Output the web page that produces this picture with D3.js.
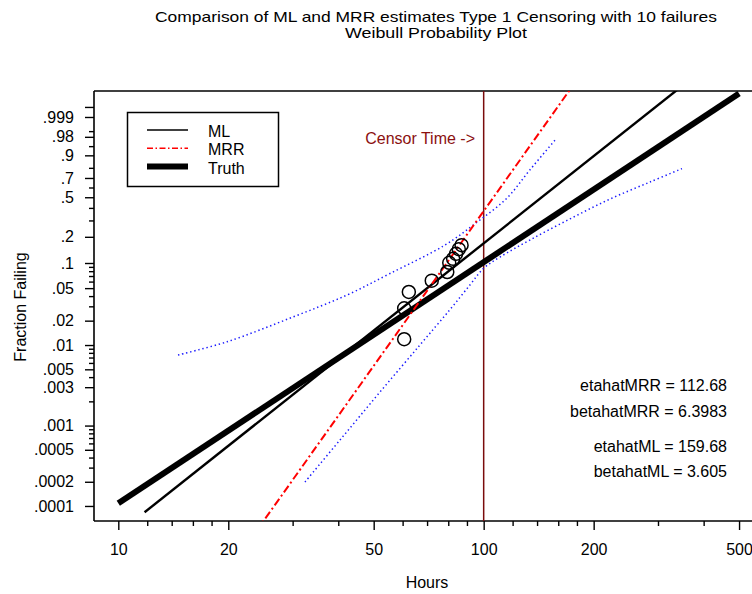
<!DOCTYPE html>
<html><head><meta charset="utf-8">
<script src="https://cdn.jsdelivr.net/npm/d3@7"></script>
<style>
html,body{margin:0;padding:0;background:#fff;}
svg{display:block;font-family:"Liberation Sans",Arial,Helvetica,sans-serif;}
</style></head><body>
<svg id="chart" width="752" height="594"></svg>
<script>
// Weibull fits: ML, MRR and the true model
const mlEta = 159.68, mlBeta = 3.605;
const mrrEta = 112.68, mrrBeta = 6.3983;
const trueEta = 210, trueBeta = 3;

// time spans (hours) over which each line is drawn
const mlSpan = [11.8, 400];
const mrrSpan = [20, 200];
const truthSpan = [10, 500];

const censorTime = 100;

// failure times and plotting positions
const failTimes = [60.6, 60.6, 62.4, 72.1, 79.5, 80.5, 82.5, 84.0, 85.5, 87.0];
const failProbs = [0.0118, 0.0284, 0.0449, 0.0616, 0.0782, 0.1006, 0.112, 0.128, 0.145, 0.161];

// pointwise confidence bounds around the ML line
const boundATimes = [14.57, 19.84, 30.07, 42.25, 55.41, 78.4, 95.3, 115.8, 133.8, 157.7];
const boundAProbs = [0.00753, 0.01097, 0.0222, 0.0412, 0.075, 0.1618, 0.2823, 0.4919, 0.7803, 0.9747];
const boundBTimes = [32.43, 40.44, 52.03, 66.98, 80.9, 91.7, 100.2, 110.8, 133.8, 172.3, 221.6, 285.2, 348.9];
const boundBProbs = [0.000199, 0.000662, 0.002615, 0.01006, 0.0274, 0.0546, 0.0874, 0.1175, 0.184, 0.3113, 0.482, 0.6577, 0.7927];

// axis ticks
const xMajorTicks = [10, 20, 50, 100, 200, 500];
const xMinorTicks = [12, 14, 16, 18, 30, 40, 60, 70, 80, 90, 120, 140, 160, 180, 300, 400];
const yTickLabels = [".0001", ".0002", ".0005", ".001", ".003", ".005", ".01", ".02", ".05", ".1", ".2", ".5", ".7", ".9", ".98", ".999"];
const yUnlabeledMajor = [0.9999];
const yMinorTicks = [0.0003, 0.0004, 0.0006, 0.0007, 0.0008, 0.0009, 0.002, 0.004, 0.006, 0.007, 0.008, 0.009,
  0.03, 0.04, 0.06, 0.07, 0.08, 0.09, 0.3, 0.4, 0.6, 0.8, 0.95, 0.99];

const titleLines = ["Comparison of ML and MRR estimates Type 1 Censoring with 10 failures", "Weibull Probability Plot"];
const legendItems = ["ML", "MRR", "Truth"];

// ---------- layout ----------
const plot = {left: 94, right: 752, top: 91, bottom: 521};
const svg = d3.select("#chart");

const wq = p => Math.log(-Math.log(1 - p));          // Weibull probability transform
const x = d3.scaleLog().domain([8.58, 542.5]).range([plot.left, plot.right]);
const yv = d3.scaleLinear().domain([-9.641, 2.677]).range([plot.bottom, plot.top]);
const y = p => yv(wq(p));

// title: a slightly condensed face, stretched to its full line width
const titleWidths = [562, 182];
svg.append("g").selectAll("text").data(titleLines).join("text")
  .attr("x", 436).attr("y", (d, i) => 22 + i * 16)
  .attr("text-anchor", "middle").attr("font-size", 14.5).attr("fill", "#000")
  .attr("textLength", (d, i) => titleWidths[i]).attr("lengthAdjust", "spacingAndGlyphs")
  .text(d => d);

// clip region for the data
svg.append("clipPath").attr("id", "clip").append("rect")
  .attr("x", plot.left).attr("y", plot.top)
  .attr("width", plot.right - plot.left).attr("height", plot.bottom - plot.top);

// x axis (log scale)
const xAxisG = svg.append("g").attr("transform", `translate(0,${plot.bottom})`);
xAxisG.call(d3.axisBottom(x).tickValues(xMajorTicks).tickFormat(d3.format("d")).tickSize(9).tickSizeOuter(0).tickPadding(14));
xAxisG.append("g").call(d3.axisBottom(x).tickValues(xMinorTicks).tickFormat("").tickSize(5).tickSizeOuter(0));
xAxisG.selectAll(".domain").remove();
xAxisG.selectAll("line").attr("stroke", "#000").attr("stroke-width", 1.4);
xAxisG.selectAll("text").attr("font-size", 16).attr("fill", "#000").attr("font-family", "Liberation Sans, Arial, sans-serif");

// y axis (Weibull scale)
const yAxisG = svg.append("g").attr("transform", `translate(${plot.left},0)`);
const yLabelVals = yTickLabels.map(s => +("0" + s));
yAxisG.call(d3.axisLeft(yv).tickValues(yLabelVals.map(wq))
  .tickFormat((d, i) => yTickLabels[i]).tickSize(9).tickSizeOuter(0).tickPadding(11));
yAxisG.append("g").call(d3.axisLeft(yv).tickValues(yUnlabeledMajor.map(wq)).tickFormat("").tickSize(9).tickSizeOuter(0));
yAxisG.append("g").call(d3.axisLeft(yv).tickValues(yMinorTicks.map(wq)).tickFormat("").tickSize(5).tickSizeOuter(0));
yAxisG.selectAll(".domain").remove();
yAxisG.selectAll("line").attr("stroke", "#000").attr("stroke-width", 1.4);
yAxisG.selectAll("text").attr("font-size", 16).attr("fill", "#000").attr("font-family", "Liberation Sans, Arial, sans-serif");

// frame lines
const frame = svg.append("g").attr("stroke", "#000").attr("stroke-width", 1.6).attr("fill", "none");
frame.append("line").attr("x1", plot.left).attr("x2", plot.left).attr("y1", plot.top).attr("y2", plot.bottom);
frame.append("line").attr("x1", plot.left).attr("x2", plot.right).attr("y1", plot.bottom).attr("y2", plot.bottom);
frame.append("line").attr("x1", plot.left).attr("x2", plot.right).attr("y1", plot.top).attr("y2", plot.top);

// axis titles
svg.append("text").attr("x", 427).attr("y", 588).attr("text-anchor", "middle")
  .attr("font-size", 16).text("Hours");
svg.append("text").attr("transform", "translate(25.5,307) rotate(-90)").attr("text-anchor", "middle")
  .attr("font-size", 16).text("Fraction Failing");

const data = svg.append("g").attr("clip-path", "url(#clip)");

// censor time
data.append("line").attr("x1", x(censorTime)).attr("x2", x(censorTime))
  .attr("y1", plot.top).attr("y2", plot.bottom)
  .attr("stroke", "#7a0c0c").attr("stroke-width", 1.5);
svg.append("text").attr("x", 475).attr("y", 144).attr("text-anchor", "end")
  .attr("font-size", 16).attr("fill", "#8b1010").text("Censor Time ->");

// confidence bounds
const bandLine = d3.line().x(d => x(d[0])).y(d => y(d[1])).curve(d3.curveCatmullRom);
[[boundATimes, boundAProbs], [boundBTimes, boundBProbs]].forEach(([ts, ps]) => {
  data.append("path").datum(ts.map((t, i) => [t, ps[i]]))
    .attr("d", bandLine).attr("fill", "none")
    .attr("stroke", "#1a1aff").attr("stroke-width", 1.5).attr("stroke-dasharray", "1.4,2.8");
});

// fitted and true lines
const straight = (span, eta, beta) => span.map(t => [x(t), yv(beta * (Math.log(t) - Math.log(eta)))]);
const lineGen = d3.line();
data.append("path").attr("d", lineGen(straight(truthSpan, trueEta, trueBeta)))
  .attr("stroke", "#000").attr("stroke-width", 6).attr("fill", "none");
data.append("path").attr("d", lineGen(straight(mlSpan, mlEta, mlBeta)))
  .attr("stroke", "#000").attr("stroke-width", 2.4).attr("fill", "none");
data.append("path").attr("d", lineGen(straight(mrrSpan, mrrEta, mrrBeta)))
  .attr("stroke", "#ff0000").attr("stroke-width", 2).attr("fill", "none")
  .attr("stroke-dasharray", "8,3,2,3");

// failure points
data.append("g").selectAll("circle").data(failTimes).join("circle")
  .attr("cx", d => x(d)).attr("cy", (d, i) => y(failProbs[i])).attr("r", 6.5)
  .attr("fill", "none").attr("stroke", "#000").attr("stroke-width", 1.5);

// legend
const lg = svg.append("g");
lg.append("rect").attr("x", 127.5).attr("y", 112.5).attr("width", 151).attr("height", 74)
  .attr("fill", "#fff").attr("stroke", "#000").attr("stroke-width", 1.5);
const legendStyles = [
  {w: 1.6, c: "#000", dash: null},
  {w: 1.6, c: "#ff0000", dash: "6,2.5,1.5,2.5"},
  {w: 6, c: "#000", dash: null}
];
legendItems.forEach((name, i) => {
  const ly = 130 + i * 18.3;
  lg.append("line").attr("x1", 147).attr("x2", 188).attr("y1", ly).attr("y2", ly)
    .attr("stroke", legendStyles[i].c).attr("stroke-width", legendStyles[i].w)
    .attr("stroke-dasharray", legendStyles[i].dash);
  lg.append("text").attr("x", 208).attr("y", ly + 7).attr("font-size", 16).text(name);
});

// parameter estimates
const estimates = [
  [`etahatMRR = ${mrrEta}`, 391],
  [`betahatMRR = ${mrrBeta}`, 417],
  [`etahatML = ${mlEta}`, 452],
  [`betahatML = ${mlBeta}`, 477]
];
svg.append("g").selectAll("text").data(estimates).join("text")
  .attr("x", 727).attr("y", d => d[1]).attr("text-anchor", "end")
  .attr("font-size", 16).text(d => d[0]);
</script>
</body></html>
